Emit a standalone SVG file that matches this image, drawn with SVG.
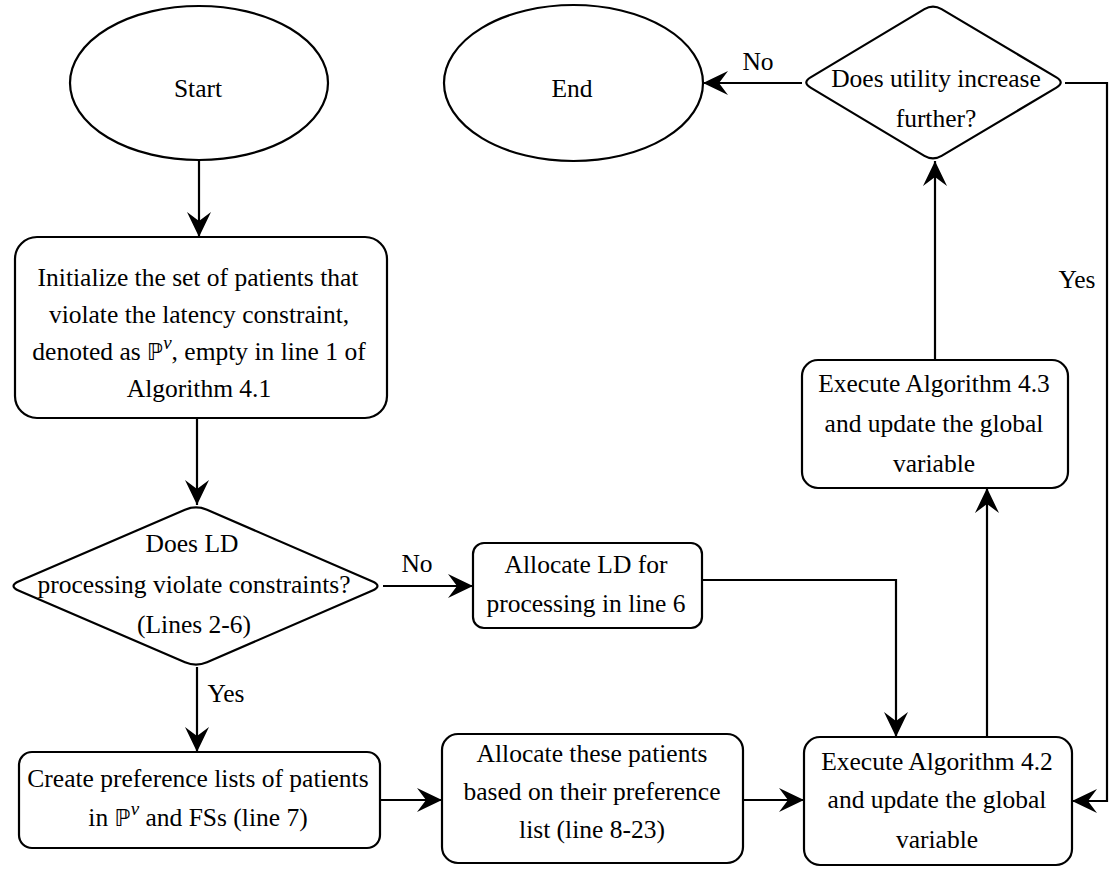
<svg xmlns="http://www.w3.org/2000/svg" width="1112" height="869" viewBox="0 0 1112 869" font-family="Times New Roman, Liberation Serif, Tinos, Times, serif">
<style>
  .shape { fill: #ffffff; stroke: #000000; stroke-width: 2.2; }
  .edge { fill: none; stroke: #000000; stroke-width: 2.2; marker-end: url(#arrow); }
  text { font-size: 25.5px; fill: #000000; text-anchor: middle; }
  .bb { font-family: DejaVu Sans, sans-serif; font-size: 23px; }
  .sup { font-style: italic; font-size: 19px; }
</style>
<defs>
  <marker id="arrow" markerUnits="userSpaceOnUse" viewBox="0 0 25 24" markerWidth="25" markerHeight="24" refX="25" refY="12" orient="auto">
    <path d="M0,0 L25,12 L0,24 L9,12 Z" fill="#000000"/>
  </marker>
</defs>
<rect width="1112" height="869" fill="#ffffff"/>

<g id="connectors">
  <path class="edge" d="M199,160 L199,237"/>
  <path class="edge" d="M197,418 L197,505"/>
  <path class="edge" d="M383,586 L473,586"/>
  <path class="edge" d="M197,667 L197,752"/>
  <path class="edge" d="M380,800 L442,800"/>
  <path class="edge" d="M743,800 L804,800"/>
  <path class="edge" d="M702,580 L896,580 L896,737"/>
  <path class="edge" d="M987,737 L987,488"/>
  <path class="edge" d="M935,360 L935,161"/>
  <path class="edge" d="M802,83 L703,83"/>
  <path class="edge" d="M1065,83 L1107,83 L1107,801 L1072,801"/>
  <text x="758" y="70">No</text>
  <text x="1077" y="288">Yes</text>
  <text x="417" y="572">No</text>
  <text x="226" y="702">Yes</text>
</g>

<g id="start">
  <ellipse class="shape" cx="199" cy="83" rx="129" ry="77"/>
  <text x="198" y="97">Start</text>
</g>

<g id="end">
  <ellipse class="shape" cx="573.5" cy="83" rx="129.5" ry="78"/>
  <text x="572" y="97">End</text>
</g>

<g id="utility-decision">
  <path class="shape" d="M924.4,9.1 Q933,4 941.6,9.1 L1056.4,77.4 Q1065,82.5 1056.4,87.6 L941.6,155.9 Q933,161 924.4,155.9 L810.6,87.6 Q802,82.5 810.6,77.4 Z"/>
  <text x="936" y="87">Does utility increase</text>
  <text x="936" y="127">further?</text>
</g>

<g id="init">
  <rect class="shape" x="15" y="237" width="372" height="181" rx="22" ry="22"/>
  <text x="198" y="286">Initialize the set of patients that</text>
  <text x="199" y="323">violate the latency constraint,</text>
  <text x="199" y="360">denoted as <tspan class="bb">ℙ</tspan><tspan class="sup" dy="-11">v</tspan><tspan dy="11">, empty in line 1 of</tspan></text>
  <text x="199" y="397">Algorithm 4.1</text>
</g>

<g id="ld-decision">
  <path class="shape" d="M185,509.8 Q196,505 207,509.8 L372,581.2 Q383,586 372,590.8 L207,662.2 Q196,667 185,662.2 L19,590.8 Q8,586 19,581.2 Z"/>
  <text x="192" y="552">Does LD</text>
  <text x="194" y="593">processing violate constraints?</text>
  <text x="194" y="633">(Lines 2-6)</text>
</g>

<g id="allocate-ld">
  <rect class="shape" x="473" y="543" width="229" height="85" rx="11" ry="11"/>
  <text x="586" y="573">Allocate LD for</text>
  <text x="586" y="612">processing in line 6</text>
</g>

<g id="create-lists">
  <rect class="shape" x="19" y="752" width="361" height="96" rx="13" ry="13"/>
  <text x="198" y="787">Create preference lists of patients</text>
  <text x="198" y="826">in <tspan class="bb">ℙ</tspan><tspan class="sup" dy="-11">v</tspan><tspan dy="11"> and FSs (line 7)</tspan></text>
</g>

<g id="allocate-patients">
  <rect class="shape" x="442" y="734" width="301" height="129" rx="16" ry="16"/>
  <text x="592" y="762">Allocate these patients</text>
  <text x="592" y="800">based on their preference</text>
  <text x="592" y="838">list (line 8-23)</text>
</g>

<g id="alg42">
  <rect class="shape" x="804" y="737" width="268" height="128" rx="16" ry="16"/>
  <text x="937" y="770">Execute Algorithm 4.2</text>
  <text x="937" y="808">and update the global</text>
  <text x="937" y="848">variable</text>
</g>

<g id="alg43">
  <rect class="shape" x="802" y="360" width="266" height="128" rx="16" ry="16"/>
  <text x="934" y="392">Execute Algorithm 4.3</text>
  <text x="934" y="432">and update the global</text>
  <text x="934" y="472">variable</text>
</g>
</svg>
